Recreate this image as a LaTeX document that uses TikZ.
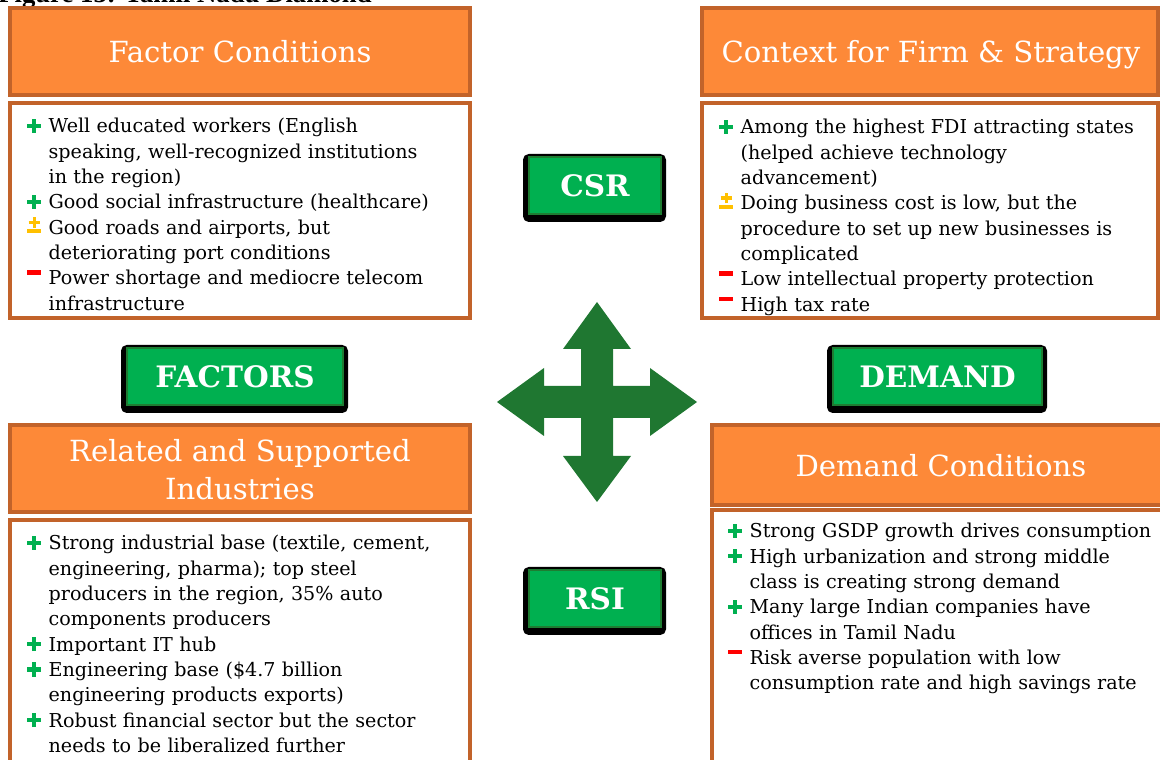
\documentclass[tikz,border=0pt]{standalone}
\usepackage{fontspec}
\setmainfont{DejaVu Serif}
\newfontfamily\capfont{Liberation Serif}
\usetikzlibrary{calc}

\definecolor{hdrorange}{RGB}{253,137,56}
\definecolor{hdrborder}{RGB}{194,99,42}
\definecolor{btngreen}{RGB}{0,176,80}
\definecolor{btnborder}{RGB}{30,125,50}
\definecolor{arrowgreen}{RGB}{31,119,49}
\definecolor{plusgreen}{RGB}{0,176,80}
\definecolor{pmyellow}{RGB}{255,192,0}
\definecolor{minusred}{RGB}{255,0,0}

\newlength\bulw \setlength\bulw{15.2pt}
\newcommand\plmark{\leavevmode\llap{\makebox[\bulw][l]{\color{plusgreen}\rlap{\rule[3.5pt]{10pt}{3pt}}\hspace{3.5pt}\rule{3pt}{10pt}}}}
\newcommand\pmmark{\leavevmode\llap{\makebox[\bulw][l]{\color{pmyellow}\rlap{\rule[0.6pt]{10pt}{3pt}}\rlap{\hspace{1pt}\rule[7.2pt]{8pt}{2.4pt}}\hspace{3.8pt}\rule[4.6pt]{2.4pt}{7.6pt}}}}
\newcommand\mimark{\leavevmode\llap{\makebox[\bulw][l]{\color{minusred}\rule[7.2pt]{10pt}{3.2pt}}}}
\def\greenbtn(#1)(#2,#3)(#4,#5)#6{%
  \fill[black, rounded corners=4pt] (#2-6,#3-3) rectangle (#4+5,#5+8);
  \draw[btnface] (#2,#3) rectangle (#4,#5);
  \node[btntext] (#1) at ({(#2+#4)/2},{(#3+#5)/2}) {#6};}

\tikzset{
  header/.style={fill=hdrorange, draw=hdrborder, line width=2.4pt},
  listbox/.style={fill=white, draw=hdrborder, line width=2.4pt},
  hdrtext/.style={text=white, inner sep=0pt, align=center, font=\fontsize{20.7}{27}\selectfont},
  listtext/.style={anchor=base west, inner sep=0pt, text width=11cm, font=\fontsize{13.6}{18}\selectfont},
  btnface/.style={fill=btngreen, draw=btnborder, line width=2pt},
  btntext/.style={text=white, inner sep=0pt, font=\bfseries\fontsize{21}{25}\selectfont}
}

\begin{document}
\begin{tikzpicture}[x=0.025cm, y=-0.025cm]
  %%%%% START %%%%%
  \useasboundingbox (0,0) rectangle (1160,760);

  \node[anchor=base west, inner sep=0pt, font=\capfont\bfseries\fontsize{19}{21}\selectfont] (figcap) at (-2,3) {Figure 13: Tamil Nadu Diamond};

  % headers
  \draw[header] (10,8) rectangle (470,95);
  \draw[header] (702,8) rectangle (1158,95);
  \draw[header] (10,425) rectangle (470,512);
  \draw[header] (712,425) rectangle (1168,505);
  \node[hdrtext, anchor=base] (fctitle) at (240,63) {Factor Conditions};
  \node[hdrtext, anchor=base] (cftitle) at (931,63) {Context for Firm \& Strategy};
  \node[hdrtext] (rstitle) at (240,470) {Related and Supported\\Industries};
  \node[hdrtext, anchor=base] (dctitle) at (941,477) {Demand Conditions};

  % lists
  \draw[listbox] (10,103) rectangle (470,318);
  \draw[listbox] (702,103) rectangle (1158,318);
  \draw[listbox] (10,520) rectangle (470,775);
  \draw[listbox] (712,510) rectangle (1168,775);

  \node[listtext] (fclist) at (27,133) {\leftskip=\bulw
    \plmark Well educated workers (English\\
    speaking, well-recognized institutions\\
    in the region)\\
    \plmark Good social infrastructure (healthcare)\\
    \pmmark Good roads and airports, but\\
    deteriorating port conditions\\
    \mimark Power shortage and mediocre telecom\\
    infrastructure\par};
  \node[listtext] (cflist) at (719,134) {\leftskip=\bulw
    \plmark Among the highest FDI attracting states\\
    (helped achieve technology\\
    advancement)\\
    \pmmark Doing business cost is low, but the\\
    procedure to set up new businesses is\\
    complicated\\
    \mimark Low intellectual property protection\\
    \mimark High tax rate\par};
  \node[listtext] (rslist) at (27,550) {\leftskip=\bulw
    \plmark Strong industrial base (textile, cement,\\
    engineering, pharma); top steel\\
    producers in the region, 35\% auto\\
    components producers\\
    \plmark Important IT hub\\
    \plmark Engineering base (\$4.7 billion\\
    engineering products exports)\\
    \plmark Robust financial sector but the sector\\
    needs to be liberalized further\par};
  \node[listtext] (dclist) at (728,538) {\leftskip=\bulw
    \plmark Strong GSDP growth drives consumption\\
    \plmark High urbanization and strong middle\\
    class is creating strong demand\\
    \plmark Many large Indian companies have\\
    offices in Tamil Nadu\\
    \mimark Risk averse population with low\\
    consumption rate and high savings rate\par};

  % buttons
  \greenbtn(csr)(529,157)(661,214){CSR}
  \greenbtn(factors)(127,348)(343,405){FACTORS}
  \greenbtn(demand)(833,348)(1042,405){DEMAND}
  \greenbtn(rsi)(529,570)(661,627){RSI}

  % four-way arrow
  \fill[arrowgreen] (597,302) -- (631,349) -- (613,349) -- (613,386) -- (650,386)
    -- (650,368) -- (697,402) -- (650,436) -- (650,418) -- (613,418)
    -- (613,456) -- (631,456) -- (597,502) -- (563,456) -- (581,456)
    -- (581,418) -- (544,418) -- (544,436) -- (497,402) -- (544,368)
    -- (544,386) -- (581,386) -- (581,349) -- (563,349) -- cycle;
  %%%%% END %%%%%
\end{tikzpicture}
\end{document}
